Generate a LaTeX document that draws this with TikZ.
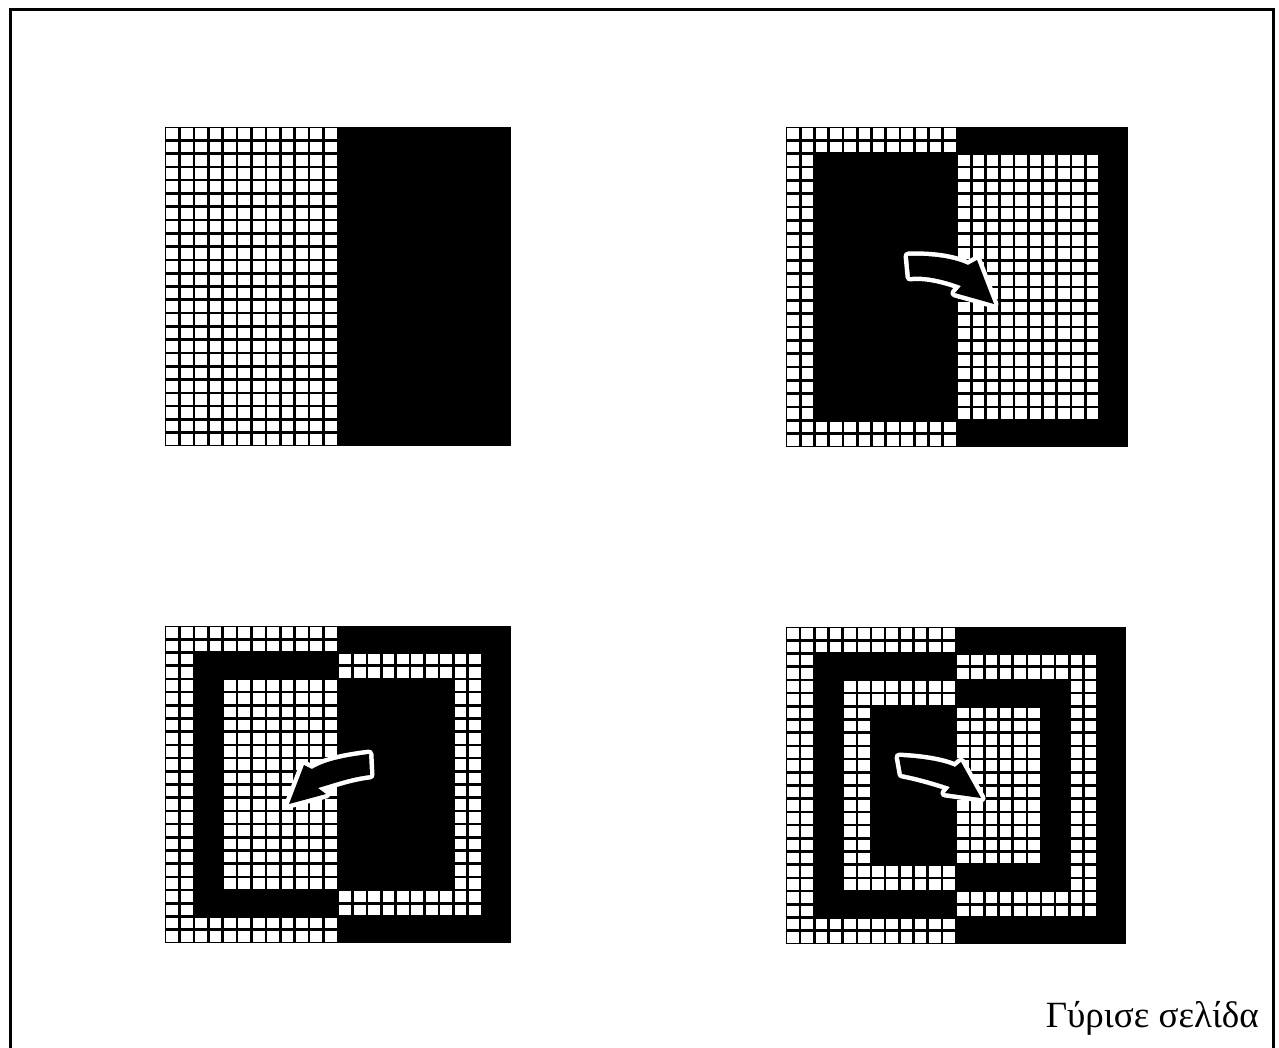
\documentclass[tikz,border=0pt]{standalone}
\usepackage{fontspec}
\setmainfont{Liberation Serif}
\newcommand{\drawpanel}[5]{%
  \fill[black] (#1,#2) rectangle (#3,#4);
  \pgfmathsetmacro\cw{(#3-#1)/24}
  \pgfmathsetmacro\ch{(#4-#2)/24}
  \foreach \i in {0,...,23}{
    \foreach \j in {0,...,23}{
      \pgfmathtruncatemacro\dd{min(\i,\j,23-\i,23-\j)}
      \pgfmathtruncatemacro\lv{min(floor(\dd/2),#5)}
      \pgfmathtruncatemacro\gg{mod(\lv+(\i>11),2)}
      \ifnum\gg=0
        \fill[white] ({#1+\i*\cw+1.3},{#2+\j*\ch+1.3}) rectangle ({#1+(\i+1)*\cw-1.3},{#2+(\j+1)*\ch-1.3});
      \fi
    }
  }
}
\tikzset{
  bigarrow/.style={fill=black, preaction={draw=white, line width=9pt, line join=round}},
  frameline/.style={draw=black, line width=3pt}
}
\begin{document}
\begin{tikzpicture}[x=1pt,y=-1pt]
\useasboundingbox (0,0) rectangle (1279,1048);
\fill[white] (0,0) rectangle (1279,1048);
% frame
\draw[frameline] (10,1048) -- (10,9.5) -- (1273.5,9.5) -- (1273.5,1048);
% panels
\drawpanel{165}{127}{511}{446}{0}
\drawpanel{786}{127}{1128}{447}{1}
\drawpanel{165}{626}{511}{943}{2}
\drawpanel{786}{627}{1126}{944}{3}
% arrows
\fill[bigarrow] (908,256) .. controls (935,255) and (955,259) .. (968,265) -- (977,260) -- (994,304) -- (955,293) -- (961,286) .. controls (945,280) and (925,275) .. (910,277) -- cycle;
\fill[bigarrow] (369,754) .. controls (345,757) and (325,761) .. (312,769) -- (304,765) -- (289,804) -- (326,794) -- (318,788) .. controls (335,783) and (352,777) .. (370,775) -- cycle;
\fill[bigarrow] (899,757) .. controls (920,758) and (942,761) .. (955,767) -- (961,762) -- (981,798) -- (945,793) -- (950,787) .. controls (935,782) and (918,777) .. (902,774) -- cycle;
% label
\node[anchor=base east, font=\fontsize{37}{44}\selectfont, inner sep=0pt] (lbl) at (1259,1027) {Γύρισε σελίδα};
\end{tikzpicture}
\end{document}
